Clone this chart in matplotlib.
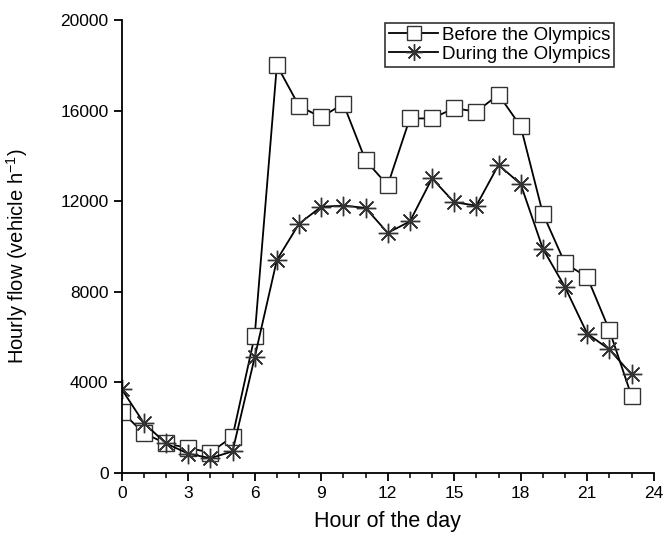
import numpy as np
import matplotlib.pyplot as plt

plt.rcParams['font.family'] = ['Liberation Sans', 'DejaVu Sans']

# hourly traffic flow (vehicle per hour)
hours = list(range(24))
before = [2700, 1750, 1300, 1100, 900, 1600, 6050, 18000, 16200, 15700, 16300, 13800,
          12700, 15650, 15650, 16100, 15950, 16700, 15300, 11450, 9250, 8650, 6300, 3400]
during = [3700, 2200, 1300, 850, 650, 950, 5100, 9400, 11000, 11750, 11800, 11700,
          10600, 11100, 13000, 11950, 11800, 13600, 12750, 9900, 8200, 6150, 5450, 4350]

fig = plt.figure(figsize=(6.65, 5.38), dpi=100)
ax = fig.add_axes([0.183, 0.121, 0.800, 0.842])

ax.plot(hours, before, color="black", lw=1.3, marker="s", ms=11.5,
        mfc="white", mec="#333333", mew=1.0, label="Before the Olympics")
ax.plot(hours, during, color="black", lw=1.3, marker=(8, 2, 0), ms=14,
        mec="#333333", mew=1.0, label="During the Olympics")

ax.set_xlim(0, 24)
ax.set_ylim(0, 20000)
ax.set_xticks(range(0, 25, 3))
ax.set_xticks(range(0, 25), minor=True)
ax.set_yticks(range(0, 20001, 4000))
ax.spines["top"].set_visible(False)
ax.spines["right"].set_visible(False)
ax.spines["left"].set_linewidth(1.3)
ax.spines["bottom"].set_linewidth(1.3)
ax.tick_params(which="major", direction="out", length=6, width=1.3, labelsize=12.5)
ax.tick_params(which="minor", direction="out", length=3.5, width=1.1)

ax.set_xlabel("Hour of the day", fontsize=15.5, labelpad=7)
ax.set_ylabel("Hourly flow (vehicle h$^{\\mathregular{-1}}$)", fontsize=14.5)
ax.yaxis.set_label_coords(-0.172, 0.478)

leg = ax.legend(loc="upper right", bbox_to_anchor=(0.925, 0.993), fontsize=13.5,
                frameon=True, fancybox=False, edgecolor="black", handlelength=2.6,
                handletextpad=0.2, borderpad=0.2, labelspacing=0.1, borderaxespad=0,
                markerscale=0.85)
leg.get_frame().set_linewidth(1.2)

fig.savefig("out.png", dpi=100)
